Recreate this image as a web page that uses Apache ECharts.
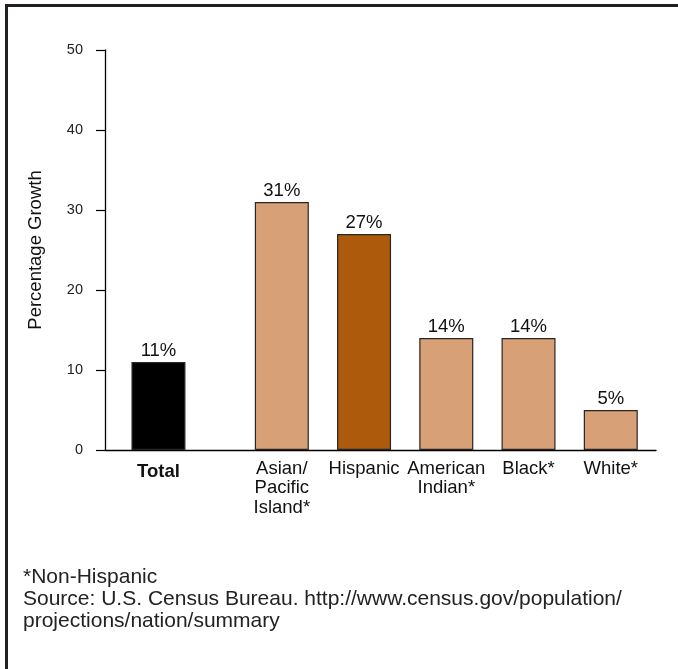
<!DOCTYPE html>
<html>
<head>
<meta charset="utf-8">
<script src="https://cdn.jsdelivr.net/npm/echarts@6/dist/echarts.min.js"></script>
<style>
  html, body { margin: 0; padding: 0; background: #fff; }
  #wrap { position: relative; width: 678px; height: 669px; }
  #chart { width: 678px; height: 669px; }
  #frame {
    position: absolute; left: 5px; top: 4px; right: 0; bottom: 0;
    border-top: 3px solid #231f20; border-left: 3px solid #231f20;
    pointer-events: none;
  }
</style>
</head>
<body>
<div id="wrap">
  <div id="chart"></div>
  <div id="frame"></div>
</div>
<script>
// Projected population growth by group
const categories = ['Total', 'Asian/\nPacific\nIsland*', 'Hispanic', 'American\nIndian*', 'Black*', 'White*'];
const growth = [11, 31, 27, 14, 14, 5];
const yTicks = [0, 10, 20, 30, 40, 50];
const footnote = [
  '*Non-Hispanic',
  'Source: U.S. Census Bureau. http://www.census.gov/population/',
  'projections/nation/summary'
];

const FONT = '"Liberation Sans", Arial, sans-serif';
const barColors = ['#000000', '#d8a077', '#ad5a0d', '#d8a077', '#d8a077', '#d8a077'];

// Slot positions along the x axis: the Total bar stands apart from the groups
const firstSlot = 0.65;
const groupStart = 2.15;
const slotPos = categories.map((c, i) => (i === 0 ? firstSlot : groupStart + (i - 1)));

const chart = echarts.init(document.getElementById('chart'), null, { renderer: 'canvas' });

chart.setOption({
  animation: false,
  backgroundColor: '#ffffff',
  textStyle: { fontFamily: FONT },
  title: {
    text: footnote.join('\n'),
    left: 23,
    top: 566,
    padding: 0,
    textStyle: { fontFamily: FONT, fontSize: 21, fontWeight: 'normal', color: '#222', lineHeight: 22 }
  },
  grid: { left: 105, right: 22, top: 50, bottom: 219 },
  xAxis: {
    type: 'value',
    min: 0,
    max: 6.7,
    axisLine: { show: true, lineStyle: { color: '#000', width: 1.3 } },
    axisTick: { show: false },
    axisLabel: { show: false },
    splitLine: { show: false }
  },
  yAxis: {
    type: 'value',
    min: yTicks[0],
    max: yTicks[yTicks.length - 1],
    interval: yTicks[1] - yTicks[0],
    name: 'Percentage Growth',
    nameLocation: 'middle',
    nameRotate: 90,
    nameGap: 60,
    nameTextStyle: { fontFamily: FONT, fontSize: 18.5, color: '#111' },
    axisLine: { show: true, lineStyle: { color: '#000', width: 1.3 } },
    axisTick: { show: true, inside: false, length: 9, lineStyle: { color: '#000', width: 1.2 } },
    axisLabel: { margin: 22, fontFamily: FONT, fontSize: 14.5, color: '#222' },
    splitLine: { show: false }
  },
  series: [
    {
      type: 'bar',
      barWidth: 54,
      data: growth.map((v, i) => ({
        value: [slotPos[i], v],
        itemStyle: { color: barColors[i], borderColor: '#2b2420', borderWidth: 1.2 }
      })),
      label: {
        show: true,
        position: 'top',
        distance: 2,
        formatter: p => p.value[1] + '%',
        fontFamily: FONT,
        fontSize: 18.5,
        color: '#111'
      }
    },
    {
      // category names set beneath each bar
      type: 'scatter',
      symbolSize: 0,
      silent: true,
      itemStyle: { opacity: 1 },
      data: categories.map((c, i) => ({
        value: [slotPos[i], 0],
        label: i === 0
          ? { fontWeight: 'bold', distance: 12 }
          : {}
      })),
      label: {
        show: true,
        position: 'bottom',
        distance: 9,
        formatter: p => categories[p.dataIndex],
        fontFamily: FONT,
        fontSize: 18.5,
        lineHeight: 19.5,
        color: '#111',
        opacity: 1,
        align: 'center'
      }
    }
  ]
});
</script>
</body>
</html>
